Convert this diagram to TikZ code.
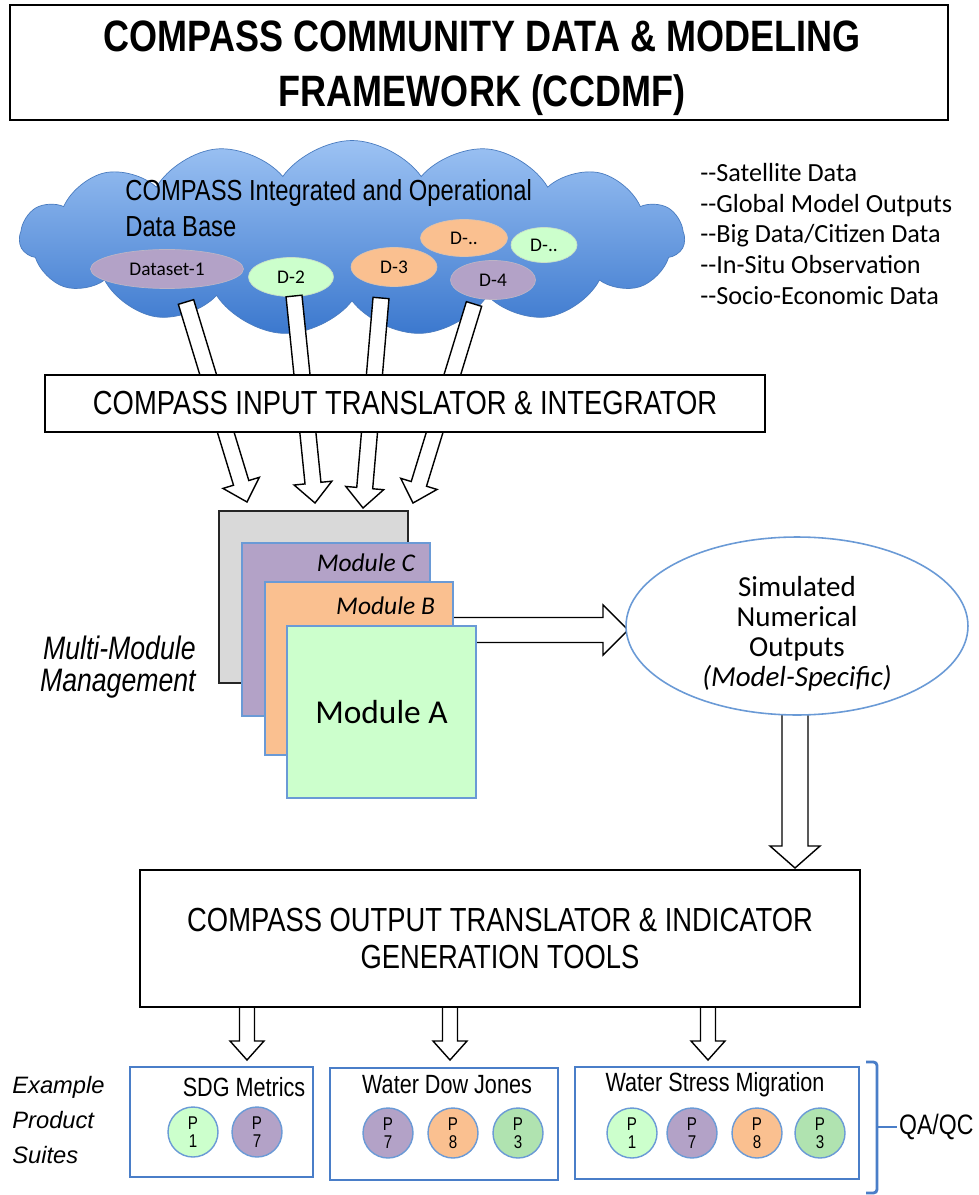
\documentclass[tikz,border=0pt]{standalone}
\usepackage{fontspec}
\setmainfont{Liberation Sans}
\newfontfamily\narrowsf[FakeStretch=0.82]{Liberation Sans}
\newfontfamily\calibri{Carlito}
\usetikzlibrary{arrows.meta,positioning,calc,shapes.geometric,shapes.symbols}
\definecolor{CloudTop}{HTML}{9CC2F3}
\definecolor{CloudBot}{HTML}{3B78CE}
\definecolor{CloudEdge}{HTML}{4A7CC0}
\definecolor{Lilac}{HTML}{B3A2C7}
\definecolor{Peach}{HTML}{FAC090}
\definecolor{Mint}{HTML}{CCFFCC}
\definecolor{Sage}{HTML}{B0E3B0}
\definecolor{Stone}{HTML}{D9D9D9}
\definecolor{Edge}{HTML}{6A9AD6}
\definecolor{Frame}{HTML}{4A7EC8}

% hollow block arrow: tail, tip, half shaft, half head, head length
\newcommand{\blockarrow}[5]{%
  \draw[hollow] ($(#1)!#3!90:(#2)$) -- ($(#2)!#5!(#1)!#3!-90:(#1)$)
    -- ($(#2)!#5!(#1)!#4!-90:(#1)$) -- (#2) -- ($(#2)!#5!(#1)!#4!90:(#1)$)
    -- ($(#2)!#5!(#1)!#3!90:(#1)$) -- ($(#1)!#3!-90:(#2)$) -- cycle;}

\begin{document}
\begin{tikzpicture}[x=0.02cm,y=-0.02cm,
titlebox/.style={draw,line width=1.1pt,minimum width=18.76cm,minimum height=2.3cm},
band/.style={draw,line width=0.9pt,fill=white,minimum width=14.4cm,align=center,font=\narrowsf\fontsize{19}{19}\selectfont},
dset/.style={ellipse,inner sep=0pt,minimum height=0.78cm,draw=#1!80!black!60,fill=#1,font=\calibri\fontsize{11}{13}\selectfont},
hollow/.style={draw,fill=white,line width=0.8pt,line join=miter},
modbox/.style={draw=Edge,line width=1pt,minimum width=3.77cm,minimum height=3.45cm,inner sep=0pt},
modtag/.style={anchor=east,font=\calibri\itshape\fontsize{14.5}{16}\selectfont},
suite/.style={draw=Frame,line width=1pt,inner sep=0pt},
suitetitle/.style={font=\narrowsf\fontsize{15}{18}\selectfont},
prod/.style={circle,draw=Edge,line width=0.8pt,minimum size=1cm,inner sep=0pt,align=center,fill=#1,font=\narrowsf\fontsize{10.5}{10}\selectfont}]
\useasboundingbox (0,0) rectangle (978,1195);
\fill[white] (0,0) rectangle (978,1195);

% header
\node[titlebox] (head) at (479,62.5) {};
\node[align=center,font=\narrowsf\bfseries\fontsize{25}{31}\selectfont] (headtext) at (482,68)
  {COMPASS COMMUNITY DATA \& MODELING\\FRAMEWORK (CCDMF)};

% data base cloud
\node[cloud,cloud puffs=15,cloud puff arc=110,aspect=3.4,minimum width=13.3cm,minimum height=3.9cm,
  draw=CloudEdge,top color=CloudTop,bottom color=CloudBot,inner sep=0pt] (db) at (352,238) {};
\node[anchor=west,align=left,inner sep=0pt,font=\narrowsf\fontsize{16.5}{20.5}\selectfont] (dbtext) at (125,208)
  {COMPASS Integrated and Operational\\Data Base};
\node[dset=Lilac,minimum width=3.06cm] (ds1) at (167,269) {Dataset-1};
\node[dset=Mint,minimum width=1.7cm] (ds2) at (291,277) {D-2};
\node[dset=Peach,minimum width=1.72cm] (ds3) at (394,267) {D-3};
\node[dset=Peach,minimum width=1.74cm,minimum height=0.74cm] (ds5) at (464,238) {D-..};
\node[dset=Mint,minimum width=1.32cm,minimum height=0.7cm] (ds6) at (544,245) {D-..};
\node[dset=Lilac,minimum width=1.7cm] (ds4) at (493,280) {D-4};

% sources list
\node[anchor=west,align=left,inner sep=0pt,font=\calibri\fontsize{14.9}{17.6}\selectfont] (src) at (700,234)
  {-{}-Satellite Data\\-{}-Global Model Outputs\\-{}-Big Data/Citizen Data\\-{}-In-Situ Observation\\-{}-Socio-Economic Data};

% feeds into the translator
\coordinate (fA) at (186,302); \coordinate (gA) at (247,502);
\coordinate (fB) at (294,296); \coordinate (gB) at (315,503);
\coordinate (fC) at (381,298); \coordinate (gC) at (363,508);
\coordinate (fD) at (474,304); \coordinate (gD) at (413,503);
\foreach \s/\t in {fA/gA,fB/gB,fC/gC,fD/gD}
  \blockarrow{\s}{\t}{0.16cm}{0.38cm}{0.4cm};
\node[band,minimum height=1.14cm] (intr) at (405,403.5) {COMPASS INPUT TRANSLATOR \& INTEGRATOR};

% module stack
\coordinate (mx) at (445,630);
\coordinate (my) at (628,630);
\blockarrow{mx}{my}{0.25cm}{0.5cm}{0.5cm}
\node[modbox,draw=black!85,fill=Stone] (modD) at (313.5,597) {};
\node[modbox,fill=Lilac] (modC) at (336,629.5) {};
\node[modbox,fill=Peach] (modB) at (359,668.5) {};
\node[modbox,fill=Mint] (modA) at (381.5,712) {};
\node[modtag] at ($(modC.north east)+(-10,20)$) {Module C};
\node[modtag] at ($(modB.north east)+(-13,24)$) {Module B};
\node[font=\calibri\fontsize{19}{22}\selectfont] at (modA) {Module A};
\node[anchor=east,align=right,inner sep=0pt,font=\narrowsf\itshape\fontsize{18.5}{18.1}\selectfont] (mm) at (196,667)
  {Multi-Module\\Management};

% simulated outputs
\coordinate (sx) at (795,700);
\coordinate (sy) at (795,868);
\blockarrow{sx}{sy}{0.26cm}{0.5cm}{0.44cm}
\node[ellipse,draw=Edge,fill=white,line width=0.9pt,minimum width=6.84cm,minimum height=3.56cm,inner sep=0pt] (sim) at (797,626) {};
\node[align=center,font=\calibri\fontsize{16.5}{17}\selectfont] (simtext) at (797,634)
  {Simulated\\Numerical\\Outputs\\\textit{(Model-Specific)}};

% output translator
\foreach \c in {247,450,708}
  \blockarrow{\c,1004}{\c,1060}{0.15cm}{0.34cm}{0.38cm};
\node[band,minimum height=2.74cm,font=\narrowsf\fontsize{19}{19}\selectfont] (outr) at (500,938.5)
  {COMPASS OUTPUT TRANSLATOR \& INDICATOR\\[1.5pt]GENERATION TOOLS};

% product suites
\node[suite,minimum width=3.66cm,minimum height=2.2cm] (sdg) at (221.5,1122) {};
\node[suite,minimum width=4.56cm,minimum height=2.24cm] (wdj) at (444,1124) {};
\node[suite,minimum width=5.68cm,minimum height=2.24cm] (wsm) at (717,1123) {};
\node[suitetitle] at (244,1087) {SDG Metrics};
\node[suitetitle] at (447,1085) {Water Dow Jones};
\node[suitetitle] at (715,1085) {Water Stress Migration};
\node[prod=Mint] (s1) at (193,1132) {P\\1};
\node[prod=Lilac] (s7) at (257,1132) {P\\7};
\node[prod=Lilac] (w7) at (388,1133) {P\\7};
\node[prod=Peach] (w8) at (453,1133) {P\\8};
\node[prod=Sage] (w3) at (518,1133) {P\\3};
\node[prod=Mint] (m1) at (632,1133) {P\\1};
\node[prod=Lilac] (m7) at (692,1133) {P\\7};
\node[prod=Peach] (m8) at (757,1133) {P\\8};
\node[prod=Sage] (m3) at (820,1133) {P\\3};
\node[anchor=west,align=left,inner sep=0pt,font=\itshape\fontsize{13.5}{19.8}\selectfont] (ex) at (12,1120)
  {Example\\Product\\Suites};

% quality bracket
\draw[Frame,line width=1.6pt,rounded corners=2pt] (866,1062) -- (877,1062) -- (877,1193) -- (866,1193);
\node[anchor=west,inner sep=1pt,font=\narrowsf\fontsize{16}{18}\selectfont] (qa) at (897,1127) {QA/QC};
\draw[Frame,line width=1.6pt] (877,1127) -- (qa.west);
\end{tikzpicture}
\end{document}
